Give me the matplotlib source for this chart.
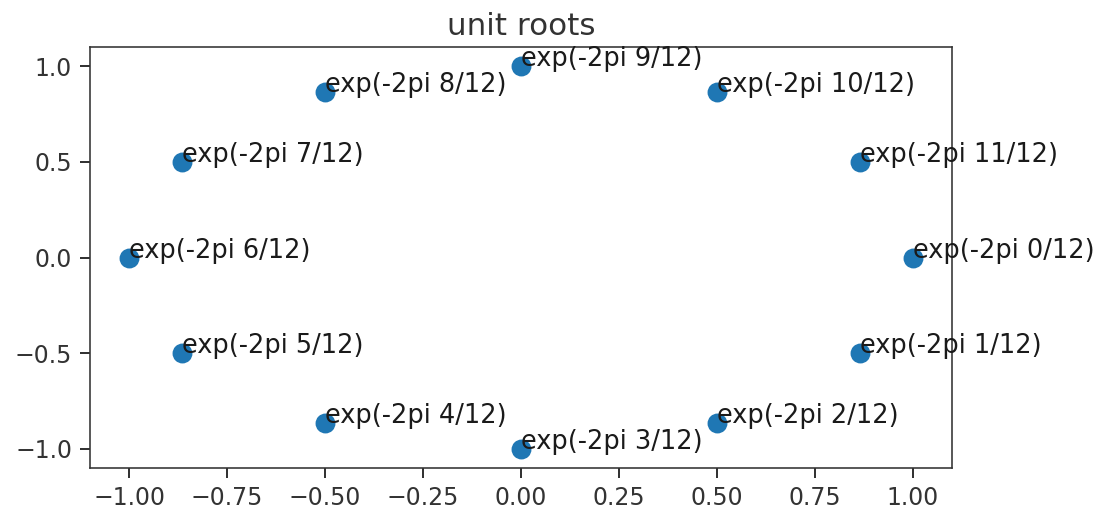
import matplotlib
matplotlib.use("Agg")
import matplotlib.pyplot as plt

x_vals = [1.0, 0.866, 0.5, 0.0, -0.5, -0.866, -1.0, -0.866, -0.5, 0.0, 0.5, 0.866]
y_vals = [0.0, -0.5, -0.866, -1.0, -0.866, -0.5, 0.0, 0.5, 0.866, 1.0, 0.866, 0.5]
labels = ["exp(-2pi %d/12)" % k for k in range(12)]

dpi = 144
fig = plt.figure(figsize=(1101 / dpi, 512 / dpi), dpi=dpi)
ax = fig.add_axes([90 / 1101, 1 - 468 / 512, (952 - 90) / 1101, (468 - 47) / 512])
ax.scatter(x_vals, y_vals, s=80, color="#1f77b4", zorder=2)
for xv, yv, lab in zip(x_vals, y_vals, labels):
    ax.text(xv, yv, lab, fontsize=12.8, color="#1a1a1a")
ax.set_xlim(-1.1, 1.1)
ax.set_ylim(-1.1, 1.1)
ax.set_xticks([-1.0, -0.75, -0.5, -0.25, 0.0, 0.25, 0.5, 0.75, 1.0])
ax.set_yticks([-1.0, -0.5, 0.0, 0.5, 1.0])
ax.tick_params(length=5, width=1, labelsize=11.8, colors="#333333", pad=4)
for s in ax.spines.values():
    s.set_color("#333333")
ax.set_title("unit roots", fontsize=15.5, color="#333333", pad=6)
fig.savefig("out.png", dpi=dpi)
